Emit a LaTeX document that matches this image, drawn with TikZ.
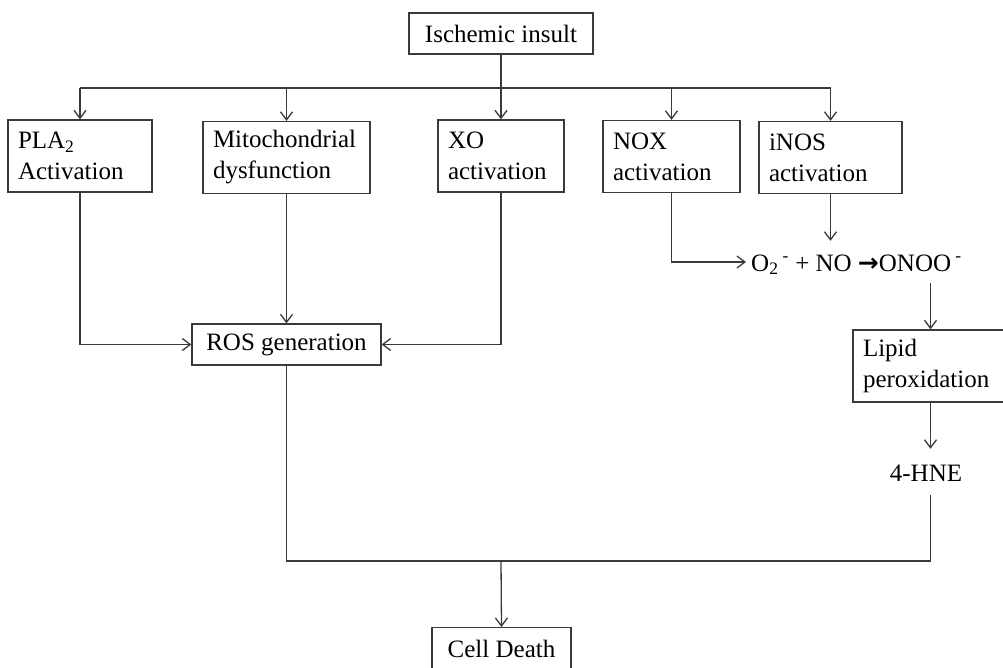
\documentclass[tikz,border=0pt]{standalone}
\usepackage{fontspec}
\setmainfont{Liberation Serif}
\newfontfamily\dejavu{DejaVu Sans}
\usetikzlibrary{arrows.meta}
\definecolor{linec}{HTML}{3A3A3A}
\tikzset{
  every node/.style={font=\fontsize{25}{31}\selectfont},
  conn/.style={draw=linec, line width=1.3pt},
  arr/.style={-{Straight Barb[length=8pt,width=12pt,line width=1.3pt]}},
  box/.style={draw=linec, line width=1.3pt, inner xsep=10pt, inner ysep=0pt,
    align=left, text width=#1, minimum height=72pt},
  cbox/.style={draw=linec, line width=1.3pt, inner xsep=4pt, inner ysep=0pt,
    align=center, minimum width=#1, minimum height=41pt},
  plain/.style={inner xsep=5pt, text height=24pt, text depth=6pt}
}
\begin{document}
\begin{tikzpicture}[x=1pt,y=-1pt]
\useasboundingbox (0,0) rectangle (1003,668);
\clip (0,0) rectangle (1003,668);
\fill[white] (0,0) rectangle (1003,668);

\node[cbox=184pt] (ins) at (501,33.5) {Ischemic insult};
\node[box=124pt] (pla) at (80,156) {PLA\textsubscript{2}\\Activation};
\node[box=147pt] (mit) at (286.5,157.5) {Mitochondrial\\dysfunction};
\node[box=106pt] (xo) at (501,156) {XO\\activation};
\node[box=117pt] (nox) at (671.5,156.5) {NOX\\activation};
\node[box=123pt] (inos) at (830.5,157.5) {iNOS\\activation};
\node[cbox=189pt] (ros) at (286.5,344.5) {ROS generation};
\node[plain, inner ysep=6pt, anchor=base west] (rxn) at (746,271)
  {O\textsubscript{2}\,\textsuperscript{-} + NO {\dejavu\bfseries →}ONOO\,\textsuperscript{-}};
\node[box=135pt] (lip) at (930.5,366) {Lipid\\peroxidation};
\node[plain, inner ysep=8pt, anchor=base] (hne) at (926,481) {4-HNE};
\node[draw=linec, line width=1.3pt, minimum width=139pt, inner ysep=8pt,
  text height=22pt, text depth=30pt, anchor=north] (cell) at (501.5,627) {Cell Death};

\coordinate (top) at (501,88);
\coordinate (bus) at (501,561);

\draw[conn] (ins.south) -- (top);
\draw[conn] (pla.north |- top) -- (inos.north |- top);
\draw[conn, line width=1.8pt] (mit.north |- top) -- (nox.north |- top);
\foreach \n in {pla,mit,xo,nox,inos}
  \draw[conn,arr] (\n.north |- top) -- (\n.north);

\draw[conn,arr] (pla.south) |- (ros.west);
\draw[conn,arr] (mit.south) -- (ros.north);
\draw[conn,arr] (xo.south) |- (ros.east);
\draw[conn,arr] (nox.south) |- (rxn.west);
\draw[conn,arr] (inos.south) -- (inos.south |- rxn.north);
\draw[conn,arr] (lip.north |- rxn.south) -- (lip.north);
\draw[conn,arr] (lip.south) -- (lip.south |- hne.north);
\draw[conn] (ros.south) |- (bus) -| (lip.south |- hne.south);
\draw[conn,arr] (bus) -- (cell.north);
\end{tikzpicture}
\end{document}
